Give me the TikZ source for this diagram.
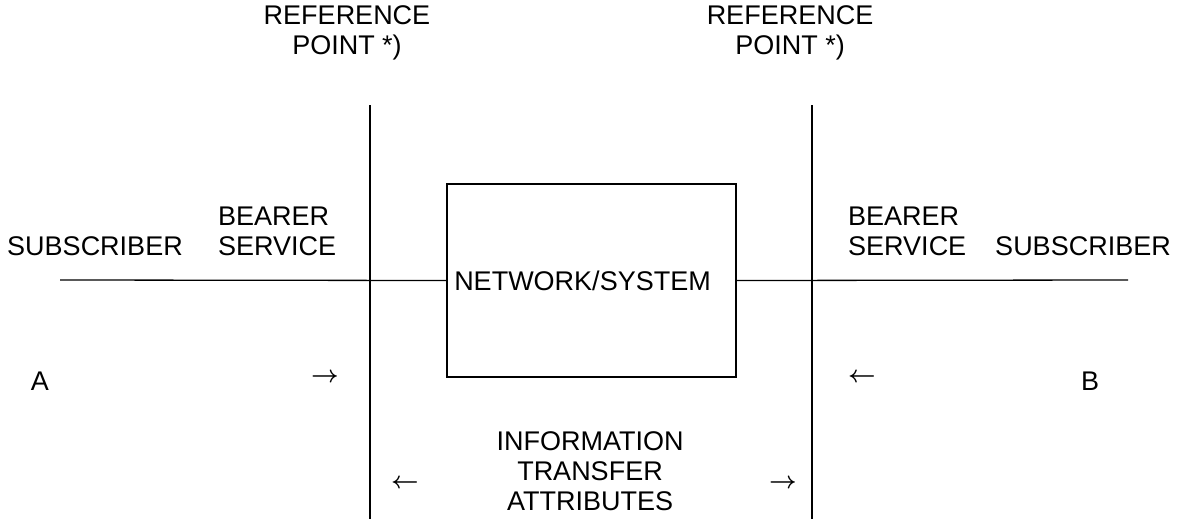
\documentclass[tikz,border=0pt]{standalone}
\usepackage{fontspec}
\setmainfont{Liberation Sans}
\usetikzlibrary{positioning}

\begin{document}
\begin{tikzpicture}[x=1pt,y=-1pt,
		lbl/.style={font=\fontsize{27}{30}\selectfont, inner sep=0pt},
		arw/.style={inner sep=0pt, font=\boldmath, scale=2.4, transform shape},
		wire/.style={line width=1.3pt}]
			%%%%% START %%%%%
			\useasboundingbox (0,0) rectangle (1177,519);
			
			% reference points
			\node[lbl, align=center] (refA) at (347,33) {REFERENCE\\POINT *)};
			\node[lbl, align=center] (refB) at (790,33) {REFERENCE\\POINT *)};
			\coordinate (topA) at (370,105);
			\coordinate (botA) at (370,519);
			\coordinate (topB) at (812,105);
			\coordinate (botB) at (812,519);
			\draw[wire] (topA) -- (botA);
			\draw[wire] (topB) -- (botB);
			
			% network box
			\node[draw, wire, minimum width=289pt, minimum height=193pt] (net) at (591.5,280.5) {};
			\node[lbl] (netlbl) at ([xshift=-9pt]net.center) {NETWORK/SYSTEM};
			\coordinate (endA) at (60,280);
			\coordinate (endB) at (1128,280);
			\draw[wire] (endA) -- (net.west);
			\draw[wire] (net.east) -- (endB);
			
			% subscriber side A
			\node[lbl] (subA) at (95,246) {SUBSCRIBER};
			\node[lbl, align=left, anchor=west] (bearA) at (218,231) {BEARER\\SERVICE};
			\node[lbl] (termA) at (40,381) {A};
			\node[arw] (arrA) at (325,378) {$\rightarrow$};
			
			% subscriber side B
			\node[lbl, align=left, anchor=west] (bearB) at (848,231) {BEARER\\SERVICE};
			\node[lbl] (subB) at (1083,246) {SUBSCRIBER};
			\node[lbl] (termB) at (1090,381) {B};
			\node[arw] (arrB) at (862,378) {$\leftarrow$};
			
			% attributes
			\node[lbl, align=center] (info) at (590,471) {INFORMATION\\TRANSFER\\ATTRIBUTES};
			\node[arw] (arrL) at (405,484) {$\leftarrow$};
			\node[arw] (arrR) at (783,484) {$\rightarrow$};
			%%%%% END %%%%%
\end{tikzpicture}
\end{document}
